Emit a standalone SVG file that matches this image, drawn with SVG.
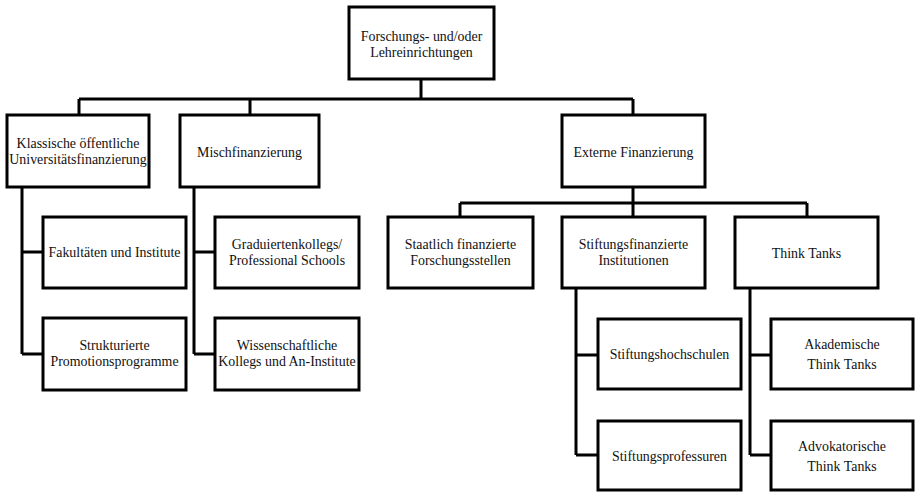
<svg xmlns="http://www.w3.org/2000/svg" width="915" height="492" viewBox="0 0 915 492">
<style>
rect{fill:#fff;stroke:#000;stroke-width:3}
text{font-family:"Liberation Serif","Times New Roman",serif;font-size:13.9px;fill:#111;text-anchor:middle}
.c{fill:none;stroke:#000;stroke-width:3}
</style>
<g id="connectors">
<path class="c" d="M421,79V99M79,99H633M79,99V115M250,99V115M633,99V115"/>
<path class="c" d="M633,186V217M460,203H807M460,203V217M807,203V217"/>
<path class="c" d="M22,187V354M22,252H43M22,354H43"/>
<path class="c" d="M194,187V354M194,252H215M194,354H215"/>
<path class="c" d="M576,288V455M576,355H598M576,455H598"/>
<path class="c" d="M750,288V455M750,355H771M750,455H771"/>
</g>
<g id="root"><rect x="349" y="7" width="145" height="72"/><text x="421.5" y="41">Forschungs- und/oder</text><text x="421.5" y="57">Lehreinrichtungen</text></g>
<g id="klassisch"><rect x="7" y="115" width="142" height="72"/><text x="78" y="148">Klassische öffentliche</text><text x="78" y="164">Universitätsfinanzierung</text></g>
<g id="misch"><rect x="180" y="115" width="139" height="72"/><text x="249.5" y="157">Mischfinanzierung</text></g>
<g id="extern"><rect x="562" y="115" width="143" height="72"/><text x="633.5" y="157">Externe Finanzierung</text></g>
<g id="fakultaeten"><rect x="43" y="217" width="143" height="71"/><text x="114.5" y="257">Fakultäten und Institute</text></g>
<g id="promotion"><rect x="43" y="318" width="143" height="72"/><text x="114.5" y="350">Strukturierte</text><text x="114.5" y="366">Promotionsprogramme</text></g>
<g id="graduierten"><rect x="215" y="217" width="144" height="71"/><text x="287" y="249">Graduiertenkollegs/</text><text x="287" y="265">Professional Schools</text></g>
<g id="kollegs"><rect x="215" y="318" width="144" height="72"/><text x="287" y="350">Wissenschaftliche</text><text x="287" y="366">Kollegs und An-Institute</text></g>
<g id="staatlich"><rect x="388" y="217" width="145" height="71"/><text x="460.5" y="249">Staatlich finanzierte</text><text x="460.5" y="265">Forschungsstellen</text></g>
<g id="stiftungsfin"><rect x="562" y="217" width="143" height="71"/><text x="633.5" y="249">Stiftungsfinanzierte</text><text x="633.5" y="265">Institutionen</text></g>
<g id="thinktanks"><rect x="735" y="217" width="143" height="71"/><text x="806.5" y="258">Think Tanks</text></g>
<g id="hochschulen"><rect x="598" y="319" width="143" height="70"/><text x="669.5" y="359">Stiftungshochschulen</text></g>
<g id="professuren"><rect x="598" y="421" width="143" height="69"/><text x="669.5" y="461">Stiftungsprofessuren</text></g>
<g id="akademisch"><rect x="771" y="319" width="142" height="70"/><text x="842" y="349">Akademische</text><text x="842" y="369">Think Tanks</text></g>
<g id="advokatorisch"><rect x="771" y="421" width="142" height="69"/><text x="842" y="451">Advokatorische</text><text x="842" y="471">Think Tanks</text></g>
</svg>
